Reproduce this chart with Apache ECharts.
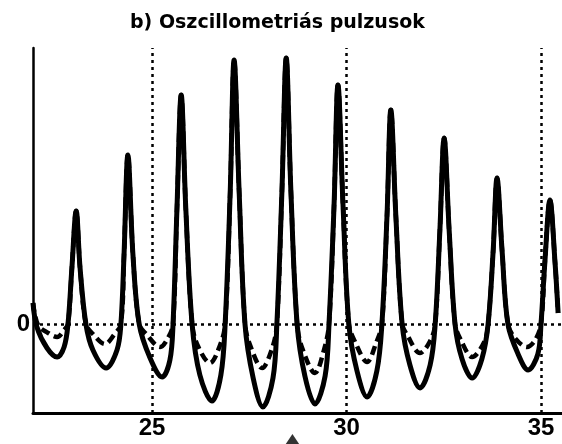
<!DOCTYPE html>
<html>
<head>
<meta charset="utf-8">
<script src="https://cdn.jsdelivr.net/npm/echarts@6/dist/echarts.min.js"></script>
<style>html,body{margin:0;padding:0;background:#fff}#c{width:562px;height:444px}</style>
</head>
<body>
<div id="c"></div>
<script>
var titleText = 'b) Oszcillometriás pulzusok';
var xTicks = [25, 30, 35];
var zeroLevel = 0;
var mapMarkX = 28.61;

var solidX = [21.94,22.04,22.30,22.56,22.74,22.84,22.94,23.05,23.15,23.30,
  23.48,23.82,24.10,24.20,24.28,24.38,24.51,24.67,
  24.95,25.26,25.46,25.54,25.64,25.75,25.87,26.03,
  26.23,26.54,26.77,26.88,27.01,27.11,27.24,27.39,
  27.60,27.85,28.11,28.21,28.34,28.45,28.57,28.73,
  28.93,29.19,29.45,29.55,29.68,29.78,29.91,30.06,
  30.27,30.53,30.78,30.91,31.04,31.14,31.27,31.43,
  31.63,31.89,32.15,32.28,32.40,32.51,32.64,32.79,
  32.97,33.23,33.48,33.64,33.77,33.87,34.00,34.15,
  34.41,34.67,34.92,35.00,35.10,35.23,35.36,35.44];
var solidY = [2.1,-0.3,-2.4,-3.3,-2.3,0,5.6,11.3,5.6,0,
  -2.6,-4.4,-2.6,0,6.9,16.9,6.9,0,
  -3.4,-5.3,-3.6,0,11.4,22.9,11.4,0,
  -5.1,-7.7,-5.1,0,13.2,26.4,13.2,0,
  -5.4,-8.3,-5.4,0,13.3,26.6,13.3,0,
  -5.2,-8.0,-5.2,0,11.9,23.9,11.9,0,
  -4.7,-7.3,-4.7,0,10.7,21.4,10.7,0,
  -4.1,-6.4,-4.1,0,9.3,18.6,9.3,0,
  -3.5,-5.4,-3.5,0,7.3,14.6,7.3,0,
  -3.0,-4.6,-3.0,0,6.2,12.4,6.2,1.1];

var dashX = [21.94,22.07,22.33,22.56,22.74,22.84,22.94,23.05,23.15,23.30,
  23.48,23.79,24.02,24.20,24.28,24.38,24.51,24.67,
  24.85,25.21,25.41,25.54,25.64,25.75,25.87,26.03,
  26.18,26.49,26.75,26.88,27.01,27.11,27.24,27.39,
  27.52,27.83,28.09,28.21,28.34,28.45,28.57,28.73,
  28.86,29.19,29.42,29.55,29.68,29.78,29.91,30.06,
  30.22,30.53,30.76,30.91,31.04,31.14,31.27,31.43,
  31.56,31.89,32.15,32.28,32.40,32.51,32.64,32.79,
  32.94,33.23,33.54,33.64,33.77,33.87,34.00,34.15,
  34.33,34.64,34.85,35.00,35.10,35.23,35.36,35.44];
var dashY = [2.1,-0.1,-0.9,-1.3,-0.6,0,5.6,11.3,5.6,0,
  -1.0,-2.0,-1.1,0,6.9,16.9,6.9,0,
  -1.0,-2.3,-1.4,0,11.4,22.9,11.4,0,
  -2.2,-3.9,-2.1,0,13.2,26.4,13.2,0,
  -2.1,-4.4,-2.4,0,13.3,26.6,13.3,0,
  -2.4,-4.9,-2.6,0,11.9,23.9,11.9,0,
  -1.8,-3.8,-1.9,0,10.7,21.4,10.7,0,
  -1.1,-2.9,-1.7,0,9.3,18.6,9.3,0,
  -1.6,-3.3,-1.8,0,7.3,14.6,7.3,0,
  -1.4,-2.3,-1.6,0,6.2,12.4,6.2,1.1];

function zip(a, b) { return a.map(function (v, i) { return [v, b[i]]; }); }

var FONT = 'Liberation Sans';
var chart = echarts.init(document.getElementById('c'), null, {renderer: 'canvas'});

var markData = [{yAxis: zeroLevel}].concat(xTicks.map(function (t) { return {xAxis: t}; }));

chart.setOption({
  animation: false,
  backgroundColor: '#fff',
  title: {
    text: titleText, left: 125, top: 9,
    textStyle: {fontFamily: 'DejaVu Sans', fontWeight: 'bold', fontSize: 19, color: '#000'}
  },
  grid: {left: 33, right: 0, top: 48, bottom: 31},
  xAxis: {
    type: 'value', min: 21.94, max: 35.54,
    axisLine: {show: true, onZero: false, lineStyle: {color: '#000', width: 3}},
    axisTick: {show: false}, axisLabel: {show: false}, splitLine: {show: false}
  },
  yAxis: {
    type: 'value', min: -8.9, max: 27.6,
    axisLine: {show: true, onZero: false, lineStyle: {color: '#000', width: 2.5}},
    axisTick: {show: false}, axisLabel: {show: false}, splitLine: {show: false}
  },
  series: [
    {
      type: 'line', data: zip(solidX, solidY), symbol: 'none', smooth: 0.35,
      lineStyle: {color: '#000', width: 5},
      markLine: {
        silent: true, symbol: 'none', animation: false,
        lineStyle: {color: '#000', type: [3, 4], width: 2.5},
        label: {
          show: true, position: 'start', distance: 3,
          formatter: function (p) { return String(p.value); },
          fontFamily: FONT, fontWeight: 'bold', fontSize: 24, color: '#000'
        },
        data: markData
      }
    },
    {
      type: 'line', data: zip(dashX, dashY), symbol: 'none', smooth: 0.35,
      lineStyle: {color: '#000', width: 4.5, type: [9, 5]}
    },
    {
      type: 'scatter', data: [[mapMarkX, -8.9]], symbol: 'triangle',
      symbolSize: [16, 12], symbolOffset: [0, 27], clip: false,
      itemStyle: {color: '#000'}, silent: true
    }
  ]
});
</script>
</body>
</html>
